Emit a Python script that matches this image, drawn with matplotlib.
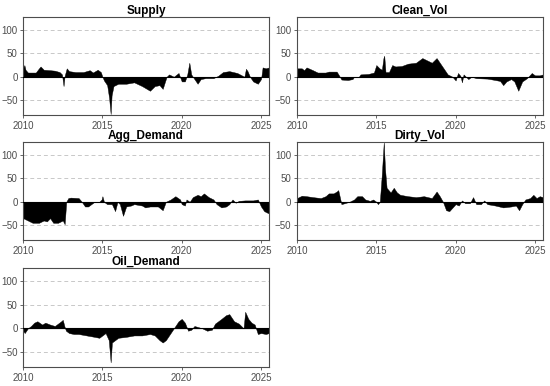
import matplotlib.pyplot as plt

plt.rcParams['font.family'] = ['Liberation Sans', 'DejaVu Sans']

supply_t = [2010.0, 2010.08, 2010.15, 2010.3, 2010.8, 2011.0, 2011.1, 2011.3, 2011.7, 2012.0, 2012.3, 2012.45, 2012.55, 2012.62, 2012.75, 2012.9,
            2013.3, 2013.8, 2014.2, 2014.4, 2014.7, 2014.9, 2015.0, 2015.1, 2015.3, 2015.42, 2015.52, 2015.58, 2015.7, 2016.0,
            2016.5, 2017.0, 2017.5, 2018.0, 2018.3, 2018.6, 2018.8, 2018.95, 2019.05, 2019.2, 2019.5, 2019.8, 2020.0, 2020.2,
            2020.35, 2020.48, 2020.6, 2020.8, 2021.0, 2021.2, 2021.5, 2022.0, 2022.3, 2022.6, 2023.0, 2023.5, 2023.95, 2024.05,
            2024.15, 2024.3, 2024.5, 2024.8, 2025.0, 2025.1, 2025.3, 2025.5]
supply_v = [18, 25, 15, 9, 9, 18, 22, 15, 14, 13, 10, 5, -20, 2, 18, 12,
            10, 10, 14, 9, 15, 10, 0, -8, -18, -45, -80, -40, -20, -15,
            -15, -12, -20, -30, -20, -18, -26, -10, 0, 5, 0, 8, -10, -10,
            5, 30, 5, -5, -15, -5, -3, -3, 2, 10, 12, 8, 0, 17,
            12, 0, -10, -15, -5, 20, 18, 20]

clean_t = [2010.0, 2010.3, 2010.45, 2010.6, 2010.8, 2011.0, 2011.3, 2011.8, 2012.0, 2012.5, 2012.7, 2012.8, 2013.2, 2013.5, 2013.6,
           2013.9, 2014.0, 2014.5, 2014.85, 2015.0, 2015.2, 2015.35, 2015.45, 2015.5, 2015.58, 2015.8, 2016.0, 2016.2, 2016.6,
           2017.0, 2017.5, 2017.9, 2018.2, 2018.5, 2018.8, 2019.0, 2019.3, 2019.5, 2019.8, 2020.0, 2020.15, 2020.3, 2020.4,
           2020.5, 2020.8, 2021.0, 2021.3, 2022.0, 2022.5, 2022.8, 2023.0, 2023.2, 2023.5, 2023.7, 2023.95, 2024.2, 2024.5,
           2024.8, 2025.0, 2025.3, 2025.5]
clean_v = [18, 18, 14, 20, 17, 14, 9, 9, 11, 11, 0, -6, -7, -5, 0,
           0, 5, 6, 9, 25, 18, 15, 40, 45, 10, 10, 25, 22, 23,
           28, 30, 40, 35, 30, 40, 30, 15, 5, 0, -8, 8, 2, -12,
           5, -5, 0, -3, -4, -7, -9, -18, -10, -5, -10, -30, -10, -3,
           8, 3, 3, 5]

agg_t = [2010.0, 2010.3, 2010.6, 2011.0, 2011.3, 2011.5, 2011.7, 2011.9, 2012.2, 2012.5, 2012.62, 2012.72, 2012.85, 2013.0,
         2013.5, 2013.7, 2013.9, 2014.1, 2014.3, 2014.5, 2014.8, 2014.95, 2015.0, 2015.1, 2015.3, 2015.6, 2015.8, 2015.95,
         2016.1, 2016.3, 2016.5, 2016.8, 2017.0, 2017.5, 2017.7, 2018.0, 2018.5, 2018.8, 2019.0, 2019.3, 2019.6, 2019.9,
         2020.0, 2020.2, 2020.3, 2020.5, 2020.7, 2021.0, 2021.2, 2021.4, 2021.7, 2022.0, 2022.2, 2022.5, 2022.8, 2023.0,
         2023.2, 2023.4, 2023.6, 2024.0, 2024.5, 2024.8, 2025.0, 2025.2, 2025.5]
agg_v = [-35, -40, -45, -45, -40, -42, -35, -45, -45, -40, -48, 0, 8, 9,
         8, 0, -10, -10, -5, 0, 0, 5, 12, 0, -5, -5, -20, 0,
         -5, -30, -10, -8, -5, -8, -12, -10, -10, -18, 0, 5, 12, 5,
         -5, -8, 5, 0, 10, 15, 12, 18, 10, 5, -5, -12, -10, -5,
         5, -2, 2, 3, 3, 5, -10, -20, -25]

dirty_t = [2010.0, 2010.3, 2010.6, 2011.0, 2011.5, 2011.8, 2012.0, 2012.3, 2012.5, 2012.6, 2012.7, 2012.8, 2013.0, 2013.3,
           2013.6, 2013.8, 2014.1, 2014.3, 2014.6, 2014.8, 2015.0, 2015.1, 2015.22, 2015.35, 2015.47, 2015.55, 2015.65,
           2015.9, 2016.1, 2016.3, 2016.5, 2017.0, 2017.5, 2018.0, 2018.5, 2018.8, 2019.0, 2019.2, 2019.4, 2019.6, 2020.0,
           2020.2, 2020.4, 2020.6, 2020.9, 2021.1, 2021.3, 2021.6, 2021.8, 2022.0, 2022.5, 2023.0, 2023.5, 2023.8, 2024.0,
           2024.2, 2024.4, 2024.7, 2024.9, 2025.1, 2025.3, 2025.5]
dirty_v = [8, 13, 12, 10, 8, 12, 18, 18, 22, 25, 10, -5, -3, 0,
           5, 12, 12, 5, 2, 5, 0, -5, 0, 60, 128, 70, 30,
           20, 30, 20, 15, 12, 10, 12, 8, 22, 12, 0, -18, -20, -5,
           -8, 3, -3, -3, 10, -5, -5, 3, -5, -8, -12, -10, -8, -18,
           -5, 5, 8, 15, 8, 12, 10]

oil_t = [2010.0, 2010.1, 2010.3, 2010.5, 2010.7, 2010.9, 2011.2, 2011.4, 2011.7, 2012.0, 2012.2, 2012.4, 2012.5, 2012.6,
         2012.7, 2012.9, 2013.2, 2013.5, 2014.0, 2014.5, 2014.8, 2015.0, 2015.2, 2015.4, 2015.52, 2015.6, 2015.8, 2016.0,
         2016.5, 2017.0, 2017.5, 2018.0, 2018.3, 2018.6, 2018.8, 2019.0, 2019.2, 2019.4, 2019.6, 2019.8, 2020.0, 2020.2,
         2020.4, 2020.6, 2020.8, 2021.0, 2021.3, 2021.6, 2021.9, 2022.1, 2022.3, 2022.5, 2022.8, 2023.0, 2023.3, 2023.6,
         2023.9, 2024.0, 2024.2, 2024.4, 2024.6, 2024.8, 2025.0, 2025.3, 2025.5]
oil_v = [-5, -10, 0, 5, 12, 15, 8, 12, 8, 5, 10, 15, 18, 5,
         -5, -10, -12, -12, -15, -18, -20, -15, -10, -25, -72, -30, -25, -20,
         -18, -15, -15, -12, -15, -25, -30, -25, -15, -5, 5, 15, 20, 12,
         -5, -3, 5, 3, 0, -5, -3, 10, 15, 20, 28, 30, 15, 10,
         0, 35, 20, 12, 8, -12, -10, -12, -10]

panels = [
    ('Supply', supply_t, supply_v, [0.042, 0.702, 0.447, 0.254]),
    ('Clean_Vol', clean_t, clean_v, [0.540, 0.702, 0.447, 0.254]),
    ('Agg_Demand', agg_t, agg_v, [0.042, 0.378, 0.447, 0.254]),
    ('Dirty_Vol', dirty_t, dirty_v, [0.540, 0.378, 0.447, 0.254]),
    ('Oil_Demand', oil_t, oil_v, [0.042, 0.049, 0.447, 0.257]),
]

fig = plt.figure(figsize=(5.5, 3.86), dpi=100)
for name, t, v, pos in panels:
    ax = fig.add_axes(pos)
    for y in [-50, 50, 100]:
        ax.axhline(y, color='#c8c8c8', ls=(0, (4, 3)), lw=0.7, zorder=0)
    ax.fill_between(t, v, 0, color='black', lw=0.3, zorder=2)
    ax.axhline(0, color='black', lw=0.8, zorder=3)
    ax.set_xlim(2010, 2025.5)
    ax.set_ylim(-82, 128)
    ax.set_xticks([2010, 2015, 2020, 2025])
    ax.set_yticks([-50, 0, 50, 100])
    ax.tick_params(labelsize=7, colors='#4d4d4d', length=2.5, width=0.6, pad=1.5)
    for s in ax.spines.values():
        s.set_color('#4d4d4d')
        s.set_linewidth(0.8)
    ax.set_title(name, fontsize=8.5, fontweight='bold', pad=2)

plt.savefig('out.png', dpi=100)
